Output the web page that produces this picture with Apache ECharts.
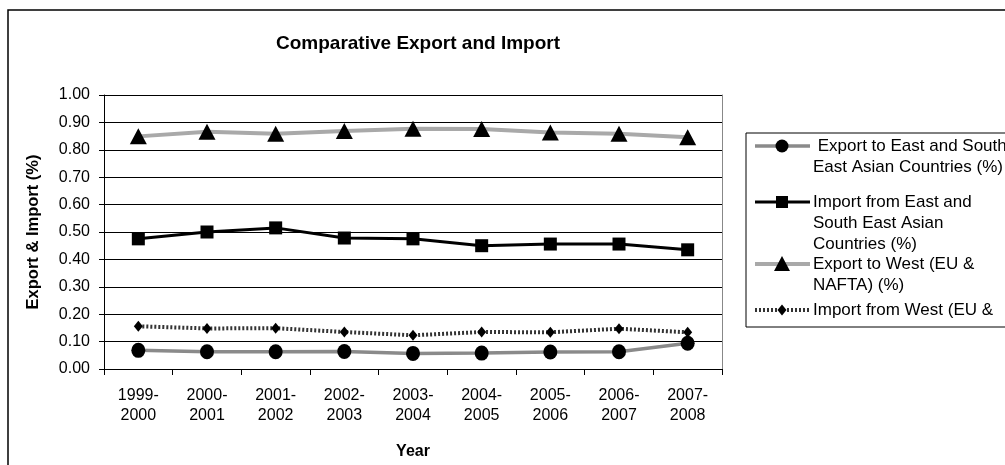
<!DOCTYPE html>
<html>
<head>
<meta charset="utf-8">
<script src="https://cdn.jsdelivr.net/npm/echarts@6/dist/echarts.min.js"></script>
<style>
  html, body { margin: 0; padding: 0; background: #fff; }
  #chart { width: 1005px; height: 465px; }
</style>
</head>
<body>
<div id="chart"></div>
<script>
// Fiscal years on the category axis
const years = ['1999-2000', '2000-2001', '2001-2002', '2002-2003', '2003-2004',
               '2004-2005', '2005-2006', '2006-2007', '2007-2008'];

// Shares of trade (%) per year
const exportEast = [0.068, 0.063, 0.063, 0.064, 0.057, 0.058, 0.062, 0.063, 0.094];
const importEast = [0.475, 0.500, 0.515, 0.478, 0.475, 0.450, 0.456, 0.456, 0.435];
const exportWest = [0.849, 0.866, 0.859, 0.869, 0.877, 0.876, 0.863, 0.859, 0.846];
const importWest = [0.156, 0.148, 0.149, 0.135, 0.123, 0.135, 0.134, 0.147, 0.134];

const seriesNames = [
  'Export to East and South East Asian Countries (%)',
  'Import from East and South East Asian Countries (%)',
  'Export to West (EU & NAFTA) (%)',
  'Import from West (EU & NAFTA) (%)'
];

// Wrapped legend lines as they fit in the legend box
const legendLines = [
  [' Export to East and South', 'East Asian Countries (%)'],
  ['Import from East and', 'South East Asian', 'Countries (%)'],
  ['Export to West (EU &', 'NAFTA) (%)'],
  ['Import from West (EU &']
];

const yTicks = { min: 0, max: 1, step: 0.1 };

const FONT = '"Liberation Sans", Arial, sans-serif';

// Visual style per series: line + marker
const styles = [
  { line: { color: '#8a8a8a', width: 3.5, type: 'solid' }, symbol: 'circle', size: [14, 15] },
  { line: { color: '#000000', width: 3, type: 'solid' }, symbol: 'rect', size: 13 },
  { line: { color: '#a9a9a9', width: 4, type: 'solid' }, symbol: 'triangle', size: [17, 16] },
  { line: { color: '#333333', width: 4, type: [2, 2] }, symbol: 'diamond', size: [9, 11] }
];

const seriesData = [exportEast, importEast, exportWest, importWest];

const chart = echarts.init(document.getElementById('chart'), null, { renderer: 'canvas' });

// Hand-built legend block (line sample, marker, wrapped text)
const legendIconY = [146, 202, 264, 310];
const legendGraphics = [
  {
    type: 'rect',
    shape: { x: 746, y: 133, width: 400, height: 194 },
    style: { fill: '#fff', stroke: '#000', lineWidth: 1 },
    z: 10
  }
];
const markerShape = (kind, cx, cy) => {
  if (kind === 'circle') return { type: 'circle', shape: { cx, cy, r: 6.5 } };
  if (kind === 'rect') return { type: 'rect', shape: { x: cx - 6, y: cy - 6, width: 12, height: 12 } };
  if (kind === 'triangle') return { type: 'polygon', shape: { points: [[cx, cy - 8], [cx + 8, cy + 7], [cx - 8, cy + 7]] } };
  return { type: 'polygon', shape: { points: [[cx, cy - 5.5], [cx + 4.5, cy], [cx, cy + 5.5], [cx - 4.5, cy]] } };
};
legendIconY.forEach((y, i) => {
  const st = styles[i];
  legendGraphics.push({
    type: 'line',
    shape: { x1: 755, y1: y, x2: 810, y2: y },
    style: { stroke: st.line.color, lineWidth: st.line.width, lineDash: Array.isArray(st.line.type) ? st.line.type : null },
    z: 11
  });
  const m = markerShape(st.symbol, 782, y);
  m.style = { fill: '#000' };
  m.z = 12;
  legendGraphics.push(m);
  legendLines[i].forEach((t, k) => {
    legendGraphics.push({
      type: 'text',
      x: 813, y: y + k * 21,
      style: { text: t, font: '17px ' + FONT, fill: '#000', textVerticalAlign: 'middle' },
      z: 12
    });
  });
});

const option = {
  backgroundColor: '#fff',
  animation: false,
  title: {
    text: 'Comparative Export and Import',
    left: 413,
    textAlign: 'center',
    top: 29,
    textStyle: { fontFamily: FONT, fontSize: 19, fontWeight: 'bold', color: '#000' }
  },
  grid: { left: 104, top: 95, width: 618, height: 280, containLabel: false },
  xAxis: {
    type: 'category',
    data: years,
    boundaryGap: true,
    axisLine: { lineStyle: { color: '#000', width: 1 } },
    axisTick: { show: true, length: 6, alignWithLabel: false, lineStyle: { color: '#000' } },
    axisLabel: {
      interval: 0, margin: 17, fontFamily: FONT, fontSize: 16, lineHeight: 20, color: '#000',
      formatter: v => v.replace('-', '-\n')
    },
    splitLine: { show: false },
    name: 'Year',
    nameLocation: 'middle',
    nameGap: 75,
    nameTextStyle: { fontFamily: FONT, fontSize: 16, fontWeight: 'bold', color: '#000' }
  },
  yAxis: [
    {
      type: 'value',
      min: yTicks.min, max: yTicks.max, interval: yTicks.step,
      axisLine: { show: true, lineStyle: { color: '#000', width: 1 } },
      axisTick: { show: true, length: 5, lineStyle: { color: '#000' } },
      axisLabel: { margin: 14, fontFamily: FONT, fontSize: 16, color: '#000', formatter: v => v.toFixed(2) },
      splitLine: { show: true, lineStyle: { color: '#000', width: 1 } },
      name: 'Export & Import (%)',
      nameLocation: 'middle',
      nameGap: 62,
      nameTextStyle: { fontFamily: FONT, fontSize: 16.5, fontWeight: 'bold', color: '#000' }
    },
    {
      type: 'value',
      position: 'right',
      min: yTicks.min, max: yTicks.max, interval: yTicks.step,
      axisLine: { show: true, lineStyle: { color: '#888', width: 1 } },
      axisTick: { show: false },
      axisLabel: { show: false },
      splitLine: { show: false }
    }
  ],
  series: seriesData.map((d, i) => ({
    name: seriesNames[i],
    type: 'line',
    yAxisIndex: 0,
    data: d,
    symbol: styles[i].symbol,
    symbolSize: styles[i].size,
    showAllSymbol: true,
    lineStyle: { color: styles[i].line.color, width: styles[i].line.width, type: styles[i].line.type, cap: 'butt' },
    itemStyle: { color: '#000', borderWidth: 0 },
    emphasis: { disabled: true },
    z: 2 + i
  })),
  graphic: [
    {
      type: 'rect',
      shape: { x: 8, y: 10, width: 1200, height: 600 },
      style: { fill: 'none', stroke: '#000', lineWidth: 1.5 },
      z: 1, silent: true
    }
  ].concat(legendGraphics)
};

chart.setOption(option);
</script>
</body>
</html>
